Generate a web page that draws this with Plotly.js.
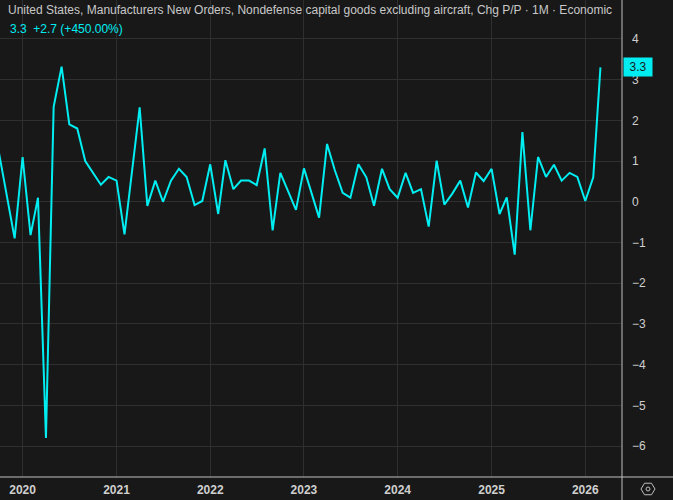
<!DOCTYPE html>
<html>
<head>
<meta charset="utf-8">
<script src="https://cdn.plot.ly/plotly-3.0.1.min.js"></script>
<style>
html,body{margin:0;padding:0;background:#181818;}
#chart{width:673px;height:500px;}
</style>
</head>
<body>
<div id="chart"></div>
<script>
// ---- data ----
const months = [
"2019-10-01","2019-11-01","2019-12-01",
"2020-01-01","2020-02-01","2020-03-01","2020-04-01","2020-05-01","2020-06-01","2020-07-01","2020-08-01","2020-09-01","2020-10-01","2020-11-01","2020-12-01",
"2021-01-01","2021-02-01","2021-03-01","2021-04-01","2021-05-01","2021-06-01","2021-07-01","2021-08-01","2021-09-01","2021-10-01","2021-11-01","2021-12-01",
"2022-01-01","2022-02-01","2022-03-01","2022-04-01","2022-05-01","2022-06-01","2022-07-01","2022-08-01","2022-09-01","2022-10-01","2022-11-01","2022-12-01",
"2023-01-01","2023-02-01","2023-03-01","2023-04-01","2023-05-01","2023-06-01","2023-07-01","2023-08-01","2023-09-01","2023-10-01","2023-11-01","2023-12-01",
"2024-01-01","2024-02-01","2024-03-01","2024-04-01","2024-05-01","2024-06-01","2024-07-01","2024-08-01","2024-09-01","2024-10-01","2024-11-01","2024-12-01",
"2025-01-01","2025-02-01","2025-03-01","2025-04-01","2025-05-01","2025-06-01","2025-07-01","2025-08-01","2025-09-01","2025-10-01","2025-11-01","2025-12-01",
"2026-01-01","2026-02-01","2026-03-01"
];
const values = [
1.2, 0.15, -0.9,
1.1, -0.82, 0.1, -5.8, 2.33, 3.32, 1.9, 1.8, 1.0, 0.72, 0.42, 0.61,
0.52, -0.8, 0.75, 2.32, -0.1, 0.52, 0.0, 0.52, 0.81, 0.61, -0.08, 0.02,
0.92, -0.3, 1.02, 0.31, 0.52, 0.52, 0.41, 1.31, -0.7, 0.71, 0.25, -0.2,
0.82, 0.21, -0.39, 1.42, 0.78, 0.22, 0.1, 0.92, 0.6, -0.1, 0.81, 0.31,
0.1, 0.71, 0.22, 0.31, -0.61, 1.01, -0.07, 0.2, 0.52, -0.14, 0.72, 0.51,
0.81, -0.3, 0.11, -1.3, 1.71, -0.7, 1.1, 0.61, 0.91, 0.52, 0.71, 0.61,
0.02, 0.6, 3.3
];
const yTicks = [-6,-5,-4,-3,-2,-1,0,1,2,3,4];
const xTickVals = ["2020-01-01","2021-01-01","2022-01-01","2023-01-01","2024-01-01","2025-01-01","2026-01-01"];
const xTickText = ["2020","2021","2022","2023","2024","2025","2026"];
const titleText = "United States, Manufacturers New Orders, Nondefense capital goods excluding aircraft, Chg P/P · 1M · Economic";
const lastValue = values[values.length-1];
const prevValue = values[values.length-2];
const change = lastValue - prevValue;
const pct = change / prevValue * 100;
const subText = lastValue.toFixed(1) + "  +" + change.toFixed(1) + " (+" + pct.toFixed(2) + "%)";

// ---- layout helpers (pixel -> paper) ----
const W = 673, H = 500, mL = 0, mR = 51, mT = 0, mB = 23;
const pw = W - mL - mR, ph = H - mT - mB;
const px = x => (x - mL) / pw;
const py = y => (H - mB - y) / ph;

const cyan = "#00eef2";
const bg = "#181818";
const grid = "#2f2f2f";
const axisCol = "#c0c0c0";
const textCol = "#cfcfcf";

// hexagon icon
const cx = 648, cy = 489, r = 7;
let hex = "";
for (let i = 0; i < 6; i++) {
  const a = Math.PI / 3 * i;
  const X = px(cx + r * Math.cos(a)), Y = py(cy + r * 0.95 * Math.sin(a));
  hex += (i === 0 ? "M" : "L") + X + "," + Y;
}
hex += "Z";

const trace = {
  x: months, y: values, type: "scatter", mode: "lines",
  line: {color: cyan, width: 2}, hoverinfo: "skip"
};

const layout = {
  width: W, height: H,
  margin: {l: mL, r: mR, t: mT, b: mB, pad: 0},
  paper_bgcolor: bg, plot_bgcolor: bg,
  showlegend: false,
  font: {family: "Liberation Sans, Arial, sans-serif", color: textCol, size: 12},
  title: {
    text: titleText, x: 8 / W, xanchor: "left", xref: "container",
    y: 1 - 10 / H, yanchor: "middle", yref: "container",
    font: {size: 12, color: "#c8c8c8", family: "Liberation Sans, Arial, sans-serif"}
  },
  xaxis: {
    type: "date",
    range: ["2019-10-05", "2026-05-24"],
    tickvals: xTickVals, ticktext: xTickText,
    showgrid: true, gridcolor: grid, gridwidth: 1,
    zeroline: false, showline: false, ticks: "",
    tickfont: {size: 12, color: textCol, weight: "bold"},
    ticklabelstandoff: 4,
    fixedrange: true
  },
  yaxis: {
    side: "right",
    range: [-6.76, 4.956],
    tickvals: yTicks,
    showgrid: true, gridcolor: grid, gridwidth: 1,
    zeroline: false, showline: false, ticks: "",
    tickfont: {size: 12, color: textCol},
    ticklabelstandoff: 9,
    fixedrange: true
  },
  shapes: [
    {type: "line", xref: "paper", yref: "paper", x0: 1, x1: 1, y0: py(H), y1: 1,
     line: {color: axisCol, width: 1}},
    {type: "line", xref: "paper", yref: "paper", x0: 0, x1: px(W), y0: 0, y1: 0,
     line: {color: axisCol, width: 1}},
    {type: "path", xref: "paper", yref: "paper", path: hex,
     line: {color: "#bdbdbd", width: 1}},
    {type: "circle", xref: "paper", yref: "paper",
     x0: px(cx - 2), x1: px(cx + 2), y0: py(cy + 2), y1: py(cy - 2),
     line: {color: "#bdbdbd", width: 1}}
  ],
  annotations: [
    {text: subText, xref: "paper", yref: "paper", x: px(8), y: py(29),
     xanchor: "left", yanchor: "middle", showarrow: false,
     font: {size: 12, color: cyan}},
    {text: lastValue.toFixed(1), xref: "paper", yref: "y", x: 1, y: lastValue,
     xanchor: "left", yanchor: "middle", showarrow: false,
     bgcolor: cyan, borderpad: 2, xshift: 1, width: 24, align: "center",
     font: {size: 12, color: "#1a1a1a"}}
  ]
};

Plotly.newPlot("chart", [trace], layout, {displayModeBar: false, staticPlot: true});
</script>
</body>
</html>
